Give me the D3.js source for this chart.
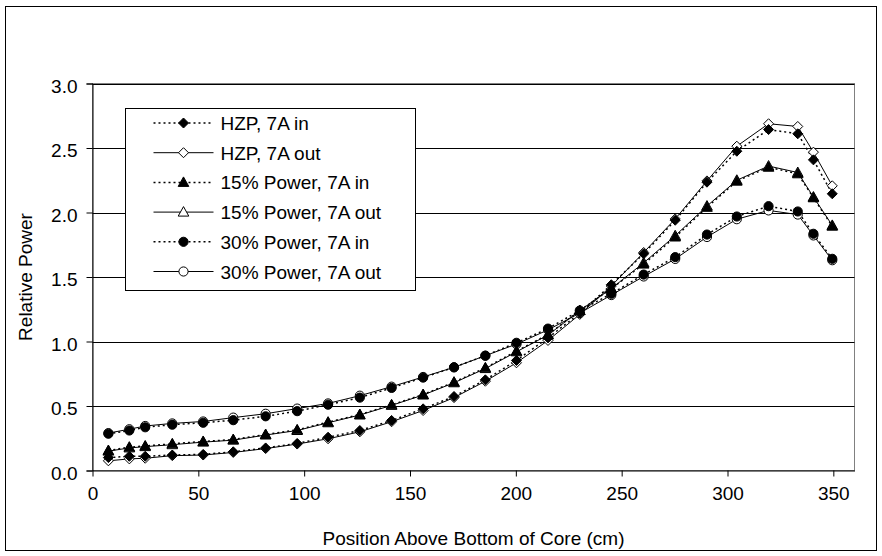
<!DOCTYPE html>
<html lang="en">
<head>
<meta charset="UTF-8">
<title>Relative Power vs Position</title>
<script src="https://d3js.org/d3.v7.min.js"></script>
<style>
    body { margin: 0; background: #fff; }
    svg text { font-family: "Liberation Sans", Arial, sans-serif; fill: #000; }
</style>
</head>
<body>
<div id="chart"></div>
<script>
// positions above bottom of core (cm)
var positions = [7.5, 17.4, 24.9, 37.7, 52.3, 66.5, 81.8, 96.7, 111.3, 126.3, 141.3, 156.2, 170.8,
                 185.6, 200.3, 215.2, 230.2, 245.1, 260.4, 275.3, 290.3, 304.4, 319.4, 333.2, 340.6, 349.5];

var hzpIn   = [0.10, 0.11, 0.11, 0.12, 0.125, 0.145, 0.175, 0.21, 0.258, 0.31, 0.388, 0.478, 0.574,
               0.703, 0.853, 1.028, 1.22, 1.44, 1.68, 1.94, 2.235, 2.475, 2.643, 2.61, 2.408, 2.145];
var hzpOut  = [0.075, 0.09, 0.095, 0.115, 0.12, 0.14, 0.17, 0.205, 0.246, 0.30, 0.378, 0.465, 0.565,
               0.692, 0.835, 1.008, 1.21, 1.43, 1.69, 1.95, 2.245, 2.514, 2.688, 2.667, 2.468, 2.207];
var p15In   = [0.155, 0.181, 0.19, 0.207, 0.225, 0.24, 0.279, 0.315, 0.375, 0.434, 0.509, 0.589, 0.685,
               0.796, 0.925, 1.054, 1.24, 1.41, 1.60, 1.81, 2.04, 2.243, 2.351, 2.30, 2.114, 1.894];
var p15Out  = [0.15, 0.175, 0.185, 0.20, 0.22, 0.235, 0.275, 0.31, 0.37, 0.43, 0.505, 0.585, 0.68,
               0.79, 0.92, 1.05, 1.24, 1.41, 1.61, 1.82, 2.05, 2.25, 2.36, 2.31, 2.12, 1.90];
var p30In   = [0.285, 0.31, 0.335, 0.355, 0.37, 0.39, 0.42, 0.46, 0.51, 0.565, 0.64, 0.72, 0.80,
               0.89, 0.99, 1.10, 1.24, 1.37, 1.519, 1.654, 1.829, 1.969, 2.049, 2.008, 1.835, 1.641];
var p30Out  = [0.29, 0.32, 0.345, 0.365, 0.38, 0.41, 0.44, 0.48, 0.52, 0.58, 0.65, 0.725, 0.80,
               0.89, 0.98, 1.09, 1.22, 1.36, 1.504, 1.64, 1.81, 1.948, 2.016, 1.984, 1.822, 1.63];

var seriesNames = ['HZP, 7A in', 'HZP, 7A out', '15% Power, 7A in', '15% Power, 7A out',
                   '30% Power, 7A in', '30% Power, 7A out'];
var xTicks = [0, 50, 100, 150, 200, 250, 300, 350];
var yTicks = [0, 0.5, 1.0, 1.5, 2.0, 2.5, 3.0];

var series = [
    {name: seriesNames[0], values: hzpIn,  shape: 'diamond',  filled: true,  dotted: true},
    {name: seriesNames[1], values: hzpOut, shape: 'diamond',  filled: false, dotted: false},
    {name: seriesNames[2], values: p15In,  shape: 'triangle', filled: true,  dotted: true},
    {name: seriesNames[3], values: p15Out, shape: 'triangle', filled: false, dotted: false},
    {name: seriesNames[4], values: p30In,  shape: 'circle',   filled: true,  dotted: true},
    {name: seriesNames[5], values: p30Out, shape: 'circle',   filled: false, dotted: false}
];

var W = 882, H = 556;
var plot = {left: 92.5, right: 854.5, top: 83.5, bottom: 470.5};
var fontSize = '19px';

var x = d3.scaleLinear().domain([0, 360]).range([plot.left, plot.right]);
var y = d3.scaleLinear().domain([0, 3]).range([plot.bottom, plot.top]);

var shapes = {
    diamond: 'M0,-5L5,0L0,5L-5,0Z',
    triangle: 'M0,-5.5L5.3,4L-5.3,4Z',
    circle: d3.symbol().type(d3.symbolCircle).size(66)()
};

var svg = d3.select('#chart').append('svg')
    .attr('width', W)
    .attr('height', H);

// outer frame
svg.append('rect')
    .attr('x', 5.5).attr('y', 6.5)
    .attr('width', 871).attr('height', 544)
    .attr('fill', '#fff')
    .attr('stroke', '#000')
    .attr('stroke-width', 1);

// plot area border
svg.append('rect')
    .attr('x', plot.left).attr('y', plot.top)
    .attr('width', plot.right - plot.left).attr('height', plot.bottom - plot.top)
    .attr('fill', 'none')
    .attr('stroke', '#808080');

// gridlines
svg.append('g')
    .selectAll('line')
    .data(yTicks.slice(1))
    .enter()
    .append('line')
    .attr('x1', plot.left).attr('x2', plot.right)
    .attr('y1', function(d){ return Math.round(y(d)) + 0.5; })
    .attr('y2', function(d){ return Math.round(y(d)) + 0.5; })
    .attr('stroke', '#000');

// y axis
var yAxis = svg.append('g')
    .attr('transform', 'translate(' + plot.left + ',0)')
    .call(d3.axisLeft(y).tickValues(yTicks).tickFormat(d3.format('.1f')).tickSize(6).tickPadding(9));
yAxis.select('.domain').attr('stroke', '#000');
yAxis.selectAll('.tick line').attr('stroke', '#000');
yAxis.selectAll('.tick text')
    .attr('dy', '0.45em')
    .style('font-size', fontSize)
    .attr('font-family', null);

// x axis
var xAxis = svg.append('g')
    .attr('transform', 'translate(0,' + plot.bottom + ')')
    .call(d3.axisBottom(x).tickValues(xTicks).tickSize(6).tickPadding(10).tickSizeOuter(0));
xAxis.select('.domain').attr('stroke', '#000');
xAxis.selectAll('.tick line').attr('stroke', '#000');
xAxis.selectAll('.tick text')
    .style('font-size', fontSize)
    .attr('font-family', null);

// axis titles
svg.append('text')
    .attr('x', (plot.left + plot.right) / 2)
    .attr('y', 545)
    .attr('text-anchor', 'middle')
    .style('font-size', fontSize)
    .text('Position Above Bottom of Core (cm)');

svg.append('text')
    .attr('transform', 'translate(32,' + (plot.top + plot.bottom) / 2 + ') rotate(-90)')
    .attr('text-anchor', 'middle')
    .style('font-size', fontSize)
    .text('Relative Power');

// series: draw "out" first so filled "in" markers sit on top
var order = [1, 3, 5, 0, 2, 4];
var line = d3.line()
    .x(function(d){ return x(d[0]); })
    .y(function(d){ return y(d[1]); });

order.forEach(function(i){
    var s = series[i];
    var pts = positions.map(function(p, k){ return [p, s.values[k]]; });
    svg.append('path')
        .datum(pts)
        .attr('d', line)
        .attr('fill', 'none')
        .attr('stroke', '#000')
        .attr('stroke-width', s.dotted ? 1.5 : 1)
        .attr('stroke-dasharray', s.dotted ? '2,3' : null);
});
order.forEach(function(i){
    var s = series[i];
    svg.append('g')
        .selectAll('path')
        .data(positions.map(function(p, k){ return [p, s.values[k]]; }))
        .enter()
        .append('path')
        .attr('d', shapes[s.shape])
        .attr('transform', function(d){ return 'translate(' + x(d[0]) + ',' + y(d[1]) + ')'; })
        .attr('fill', s.filled ? '#000' : '#fff')
        .attr('stroke', '#000')
        .attr('stroke-width', 1);
});

// legend
var legend = svg.append('g').attr('transform', 'translate(125.5,108.5)');
legend.append('rect')
    .attr('width', 290).attr('height', 182)
    .attr('fill', '#fff')
    .attr('stroke', '#000');

var item = legend.selectAll('g.item')
    .data(series)
    .enter()
    .append('g')
    .attr('class', 'item')
    .attr('transform', function(d, i){ return 'translate(0,' + (14.5 + i * 29.7) + ')'; });
item.append('line')
    .attr('x1', 28).attr('x2', 88)
    .attr('stroke', '#000')
    .attr('stroke-width', function(d){ return d.dotted ? 1.5 : 1; })
    .attr('stroke-dasharray', function(d){ return d.dotted ? '2,3' : null; });
item.append('path')
    .attr('d', function(d){ return shapes[d.shape]; })
    .attr('transform', 'translate(58,0)')
    .attr('fill', function(d){ return d.filled ? '#000' : '#fff'; })
    .attr('stroke', '#000');
item.append('text')
    .attr('x', 95)
    .attr('dy', 7)
    .style('font-size', fontSize)
    .text(function(d){ return d.name; });
</script>
</body>
</html>
